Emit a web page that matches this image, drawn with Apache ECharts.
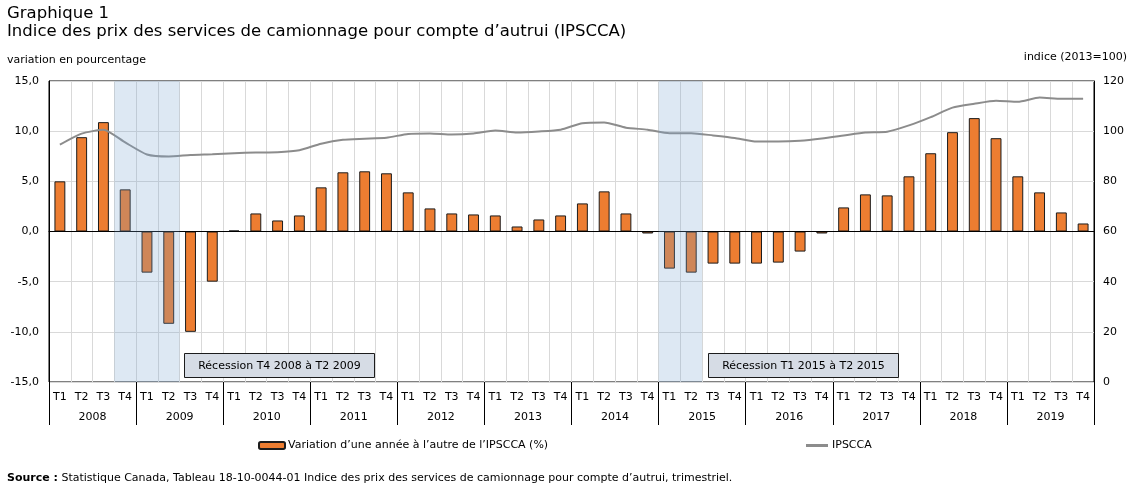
<!DOCTYPE html>
<html>
<head>
<meta charset="utf-8">
<script src="https://cdn.jsdelivr.net/npm/echarts@6/dist/echarts.min.js"></script>
<style>
  html, body { margin: 0; padding: 0; background: #fff; }
  #chart { width: 1134px; height: 491px; }
</style>
</head>
<body>
<div id="chart"></div>
<script>
// categories
var years = ['2008', '2009', '2010', '2011', '2012', '2013', '2014', '2015', '2016', '2017', '2018', '2019'];
var quarters = ['T1', 'T2', 'T3', 'T4'];

// variation d'une année à l'autre (%)
var variation = [5.0, 9.4, 10.9, 4.2, -4.1, -9.2, -10.0, -5.0,
    0.1, 1.8, 1.1, 1.6, 4.4, 5.9, 6.0, 5.8,
    3.9, 2.3, 1.8, 1.7, 1.6, 0.5, 1.2, 1.6,
    2.8, 4.0, 1.8, -0.2, -3.7, -4.1, -3.2, -3.2,
    -3.2, -3.1, -2.0, -0.2, 2.4, 3.7, 3.6, 5.5,
    7.8, 9.9, 11.3, 9.3, 5.5, 3.9, 1.9, 0.8];

// indice (2013=100)
var ipscca = [94.6, 99.0, 100.6, 95.5, 90.7, 89.9, 90.5, 90.8,
    91.2, 91.5, 91.6, 92.4, 95.0, 96.6, 97.0, 97.4,
    98.9, 99.1, 98.7, 99.1, 100.3, 99.5, 99.9, 100.6,
    103.2, 103.5, 101.4, 100.6, 99.2, 99.2, 98.3, 97.3,
    95.9, 95.9, 96.2, 97.1, 98.3, 99.5, 99.8, 102.3,
    105.6, 109.4, 110.9, 112.1, 111.7, 113.4, 112.9, 112.9];

// récessions (index de trimestre début, fin exclusive)
var recessions = [[3, 6], [28, 30]];
var recessionLabels = ['Récession T4 2008 à T2 2009', 'Récession T1 2015 à T2 2015'];

var barName = 'Variation d\u2019une année à l\u2019autre de l\u2019IPSCCA (%)';
var lineName = 'IPSCCA';

var cats = [];
for (var i = 0; i < years.length; i++) {
    for (var j = 0; j < quarters.length; j++) {
        cats.push(quarters[j]);
    }
}

var font = 'DejaVu Sans, Verdana, sans-serif';
var myChart = echarts.init(document.getElementById('chart'));

var recAreas = [];
for (var k = 0; k < recessions.length; k++) {
    recAreas.push([{ xAxis: recessions[k][0] }, { xAxis: recessions[k][1] }]);
}

var recBox = function (left, label) {
    return {
        type: 'group', left: left, top: 353, z: 100,
        children: [
            { type: 'rect', z: 100, shape: { x: 0.5, y: 0.5, width: 190, height: 24 }, style: { fill: '#d6dce5', stroke: '#1c1c1c', lineWidth: 1 } },
            { type: 'text', z: 101, x: 95.5, y: 13, style: { text: label, font: '11px ' + font, fill: '#000', align: 'center', verticalAlign: 'middle' } }
        ]
    };
};

var option = {
    animation: false,
    textStyle: { fontFamily: font, color: '#000' },
    grid: {
        left: 49, right: 40, top: 81, bottom: 109,
        show: true, borderColor: '#000', borderWidth: 1
    },
    legend: [{
        data: [barName],
        left: 258, top: 440, padding: 0,
        itemWidth: 26, itemHeight: 7, itemGap: 4,
        textStyle: { fontSize: 11, color: '#000', fontFamily: font, padding: [0, 0, 0, -2] }
    }, {
        data: [{ name: lineName, icon: 'rect' }],
        left: 806, top: 440, padding: 0,
        itemWidth: 22, itemHeight: 3, itemGap: 4,
        textStyle: { fontSize: 11, color: '#000', fontFamily: font, padding: [0, 0, 0, -1] }
    }],
    xAxis: [{
        type: 'category',
        data: cats,
        position: 'bottom',
        axisLine: { lineStyle: { color: '#000' } },
        axisTick: { show: false },
        axisLabel: { interval: 0, fontSize: 11, color: '#000', margin: 10 },
        splitLine: { show: true, interval: 0, lineStyle: { color: '#d9d9d9' } }
    }, {
        type: 'category',
        data: years,
        position: 'bottom',
        axisLine: { show: false },
        axisTick: { show: true, length: 43, lineStyle: { color: '#000' } },
        axisLabel: { fontSize: 11, color: '#000', margin: 30 },
        splitLine: { show: false }
    }, {
        type: 'value',
        min: 0, max: 48,
        show: false
    }],
    yAxis: [{
        type: 'value',
        min: -15, max: 15, interval: 5,
        axisLine: { show: true, lineStyle: { color: '#000' } },
        axisTick: { show: false },
        axisLabel: {
            fontSize: 11, color: '#000', margin: 10,
            formatter: function (v) { return v.toFixed(1).replace('.', ','); }
        },
        splitLine: { lineStyle: { color: '#d9d9d9' } }
    }, {
        type: 'value',
        min: 0, max: 120, interval: 20,
        position: 'right',
        axisLine: { show: true, lineStyle: { color: '#000' } },
        axisTick: { show: false },
        axisLabel: { fontSize: 11, color: '#000', margin: 9 },
        splitLine: { show: false }
    }],
    series: [{
        name: barName,
        type: 'bar',
        xAxisIndex: 0, yAxisIndex: 0,
        data: variation,
        barWidth: '50%',
        itemStyle: { color: '#ed7d31', borderColor: '#1c1c1c', borderWidth: 1 },
        markLine: {
            silent: true,
            symbol: 'none',
            label: { show: false },
            lineStyle: { color: '#000', type: 'solid', width: 1 },
            data: [{ yAxis: 0 }]
        }
    }, {
        name: lineName,
        type: 'line',
        xAxisIndex: 0, yAxisIndex: 1,
        data: ipscca,
        symbol: 'none',
        smooth: 0.2,
        lineStyle: { color: '#8c8c8c', width: 2 },
        itemStyle: { color: '#8c8c8c' }
    }, {
        name: 'recessions',
        type: 'line',
        xAxisIndex: 2, yAxisIndex: 0,
        data: [],
        z: 10,
        markArea: {
            silent: true,
            z: 20,
            itemStyle: { color: 'rgba(118,162,208,0.25)' },
            data: recAreas
        }
    }],
    graphic: [
        { type: 'text', left: 7, top: 5, style: { text: 'Graphique 1', font: '16.5px ' + font, fill: '#000' } },
        { type: 'text', left: 7, top: 23, style: { text: 'Indice des prix des services de camionnage pour compte d\u2019autrui (IPSCCA)', font: '16.5px ' + font, fill: '#000' } },
        { type: 'text', left: 7, top: 55, style: { text: 'variation en pourcentage', font: '11px ' + font, fill: '#000' } },
        { type: 'text', right: 7, top: 52, style: { text: 'indice (2013=100)', font: '11px ' + font, fill: '#000' } },
        {
            type: 'text', left: 7, top: 473,
            style: {
                text: '{b|Source :} Statistique Canada, Tableau 18-10-0044-01 Indice des prix des services de camionnage pour compte d\u2019autrui, trimestriel.',
                font: '11px ' + font, fill: '#000',
                rich: { b: { fontWeight: 'bold', fontSize: 11, fontFamily: font } }
            }
        },
        recBox(184, recessionLabels[0]),
        recBox(708, recessionLabels[1])
    ]
};
myChart.setOption(option);
window.onresize = function () {
    myChart.resize();
};
</script>
</body>
</html>
